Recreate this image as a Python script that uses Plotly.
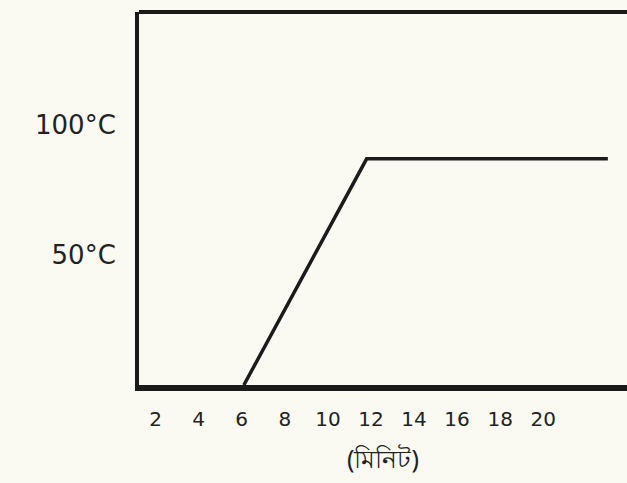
import plotly.graph_objects as go

# heating curve: time in minutes vs temperature
minutes = [6.1, 11.8, 23]
temperature = [0, 87, 87]

x_ticks = [2, 4, 6, 8, 10, 12, 14, 16, 18, 20]
y_ticks = [50, 100]
y_tick_text = ["50°C", "100°C"]
x_title = "(মিনিট)"

ink = "#1b1b1b"
paper = "#fafaf3"

fig = go.Figure(
    go.Scatter(
        x=minutes,
        y=temperature,
        mode="lines",
        line=dict(color=ink, width=3.5),
        hoverinfo="skip",
    )
)

fig.update_layout(
    width=627,
    height=483,
    margin=dict(l=139, r=0, t=12, b=98),
    paper_bgcolor=paper,
    plot_bgcolor=paper,
    showlegend=False,
    font=dict(family="DejaVu Sans, Verdana, sans-serif", color="#222222"),
)

fig.update_xaxes(
    range=[1.23, 23.89],
    tickvals=x_ticks,
    ticktext=[str(v) for v in x_ticks],
    tickfont=dict(size=20),
    showgrid=False,
    zeroline=False,
    ticks="",
    showline=True,
    linecolor=ink,
    linewidth=6,
    mirror=False,
    ticklabelstandoff=11,
    title=dict(text=x_title, font=dict(size=25, family="Noto Sans, sans-serif"), standoff=22),
)

fig.update_yaxes(
    range=[0, 143.5],
    tickvals=y_ticks,
    ticktext=y_tick_text,
    tickfont=dict(size=26),
    showgrid=False,
    zeroline=False,
    ticks="",
    showline=True,
    linecolor=ink,
    linewidth=4,
    ticklabelstandoff=14,
)

# top border of the frame
fig.add_shape(
    type="line", xref="paper", yref="paper",
    x0=0, x1=1, y0=1, y1=1,
    line=dict(color=ink, width=4),
)

fig.write_html("out.html")
